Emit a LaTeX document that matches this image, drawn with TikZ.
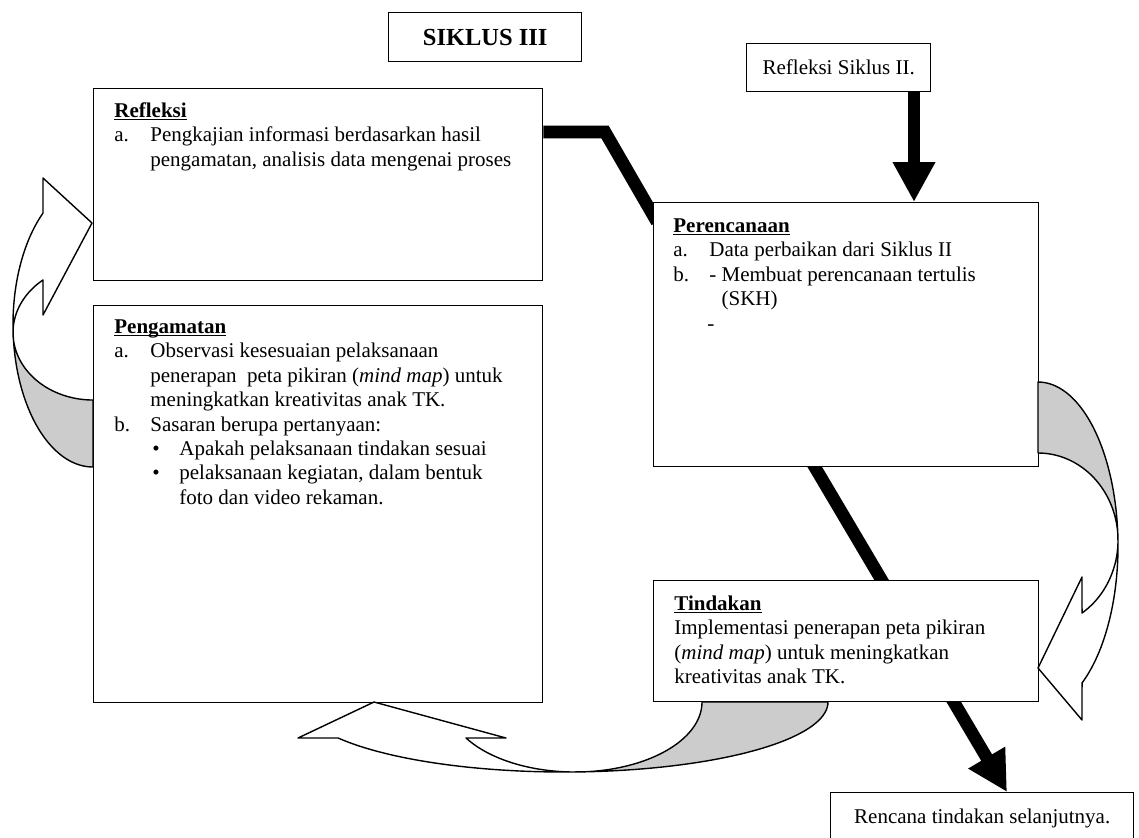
\documentclass[tikz,border=0pt]{standalone}
\usepackage{fontspec}
\setmainfont{Liberation Serif}
\usetikzlibrary{arrows.meta,backgrounds,calc}
\newcommand\myitem[2]{\makebox[18pt][l]{#1}#2}
\newcommand\myul[1]{\setbox0\hbox{#1}\rlap{\rule[-1.5pt]{\wd0}{0.55pt}}\box0}
\begin{document}
\begin{tikzpicture}[x=0.5pt,y=-0.5pt,
  panel/.style={draw, line width=0.7pt, fill=white, inner sep=0pt, anchor=north west, font=\fontsize{10.5}{12.2}\selectfont},
  txt/.style={inner sep=0pt, anchor=north west, align=left, font=\fontsize{10.5}{12.2}\selectfont},
  thickline/.style={line width=6.3pt},
  thickarrow/.style={line width=6.3pt, -{Triangle[width=20pt,length=20pt]}},
  bandline/.style={draw, line width=0.7pt, line join=round},
  backband/.style={bandline, fill=gray!40},
  frontband/.style={bandline, fill=white}]
\useasboundingbox (0,0) rectangle (1139,837);
\clip (0,0) rectangle (1139,837);

% helper coordinates
\coordinate (c1) at (605,132);
\coordinate (c2) at (653,215);
\coordinate (c3) at (914,0);
\coordinate (d1) at (815,466);
\coordinate (d4) at (1007,792);

% boxes
\node[panel, minimum width=96.5pt, minimum height=24.5pt, font=\fontsize{12.25}{14}\bfseries\selectfont] (siklus) at (388,12) {SIKLUS III};
\node[panel, minimum width=92pt, minimum height=24pt] (refII) at (746,43) {Refleksi Siklus II.};
\node[panel, minimum width=224.5pt, minimum height=96pt] (refleksi) at (93,88) {};
\node[panel, minimum width=224.5pt, minimum height=198.5pt] (pengamatan) at (93,305) {};
\node[panel, minimum width=192.5pt, minimum height=132pt] (perencanaan) at (653,202) {};
\node[panel, minimum width=192.5pt, minimum height=60.5pt] (tindakan) at (653,580) {};
\node[panel, minimum width=151.5pt, minimum height=26pt] (rencana) at (830,792) {Rencana tindakan selanjutnya.};

% texts
\node[txt] (refleksiText) at (114,100) {\strut\myul{\textbf{Refleksi}}\\
\myitem{a.}{Pengkajian informasi berdasarkan hasil}\\
\hspace*{18pt}pengamatan, analisis data mengenai proses};

\node[txt] (pengamatanText) at (114,316) {\strut\myul{\textbf{Pengamatan}}\\
\myitem{a.}{Observasi kesesuaian pelaksanaan}\\
\hspace*{18pt}penerapan\ \ peta pikiran (\textit{mind map}) untuk\\
\hspace*{18pt}meningkatkan kreativitas anak TK.\\
\myitem{b.}{Sasaran berupa pertanyaan:}\\
\hspace*{19pt}\makebox[13.5pt][l]{\textbullet}Apakah pelaksanaan tindakan sesuai\\
\hspace*{19pt}\makebox[13.5pt][l]{\textbullet}pelaksanaan kegiatan, dalam bentuk\\
\hspace*{32.5pt}foto dan video rekaman.};

\node[txt] (perencanaanText) at (673,215) {\strut\myul{\textbf{Perencanaan}}\\
\myitem{a.}{Data perbaikan dari Siklus II}\\
\myitem{b.}{- Membuat perencanaan tertulis}\\
\hspace*{18pt}\phantom{- }(SKH)\\
\hspace*{17pt}-};

\node[txt] (tindakanText) at (674,593) {\strut\myul{\textbf{Tindakan}}\\
Implementasi penerapan peta pikiran\\
(\textit{mind map}) untuk meningkatkan\\
kreativitas anak TK.};

% thick connectors (behind boxes)
\begin{pgfonlayer}{background}
\draw[thickline, shorten >=-4pt] (refleksi.east |- c1) -- (c1) -- (perencanaan.west |- c2);
\draw[thickarrow] (refII.south -| c3) -- (perencanaan.north -| c3);
\draw[thickarrow, shorten <=-4pt] (perencanaan.south -| d1) -- (rencana.north -| d4);
\end{pgfonlayer}

% curved block arrow: Pengamatan -> Refleksi (left)
\path[backband] plot[domain=90:173.7, samples=40, variable=\t] ({93+80*cos(\t)},{324.4+142.6*sin(\t)})
  -- plot[domain=173.7:90, samples=40, variable=\t] ({93+80*cos(\t)},{332.6+67.4*sin(\t)}) -- cycle;
\path[frontband] plot[domain=173.7:231.3, samples=40, variable=\t] ({93+80*cos(\t)},{324.4+142.6*sin(\t)})
  -- (43,178) -- (92,223) -- (43,315)
  -- plot[domain=231.3:173.7, samples=40, variable=\t] ({93+80*cos(\t)},{332.6+67.4*sin(\t)}) -- cycle;

% curved block arrow: Perencanaan -> Tindakan (right)
\path[backband] plot[domain=-90:-4.3, samples=40, variable=\t] ({1038+80*cos(\t)},{546+164*sin(\t)})
  -- plot[domain=-4.3:-90, samples=40, variable=\t] ({1038+80*cos(\t)},{540.2+87.2*sin(\t)}) -- cycle;
\path[frontband] plot[domain=-4.3:56.6, samples=40, variable=\t] ({1038+80*cos(\t)},{546+164*sin(\t)})
  -- (1082,720) -- (1038,668) -- (1082,577)
  -- plot[domain=56.6:-4.3, samples=40, variable=\t] ({1038+80*cos(\t)},{540.2+87.2*sin(\t)}) -- cycle;

% curved block arrow: Tindakan -> Pengamatan (bottom)
\path[backband] plot[domain=0:85.5, samples=40, variable=\t] ({564.3+263.7*cos(\t)},{702+70*sin(\t)})
  -- plot[domain=85.5:0, samples=40, variable=\t] ({575+127*cos(\t)},{702+70*sin(\t)}) -- cycle;
\path[frontband] plot[domain=85.5:149.1, samples=40, variable=\t] ({564.3+263.7*cos(\t)},{702+70*sin(\t)})
  -- (298,738) -- (374,702) -- (506,738)
  -- plot[domain=149.1:85.5, samples=40, variable=\t] ({575+127*cos(\t)},{702+70*sin(\t)}) -- cycle;
\end{tikzpicture}
\end{document}
